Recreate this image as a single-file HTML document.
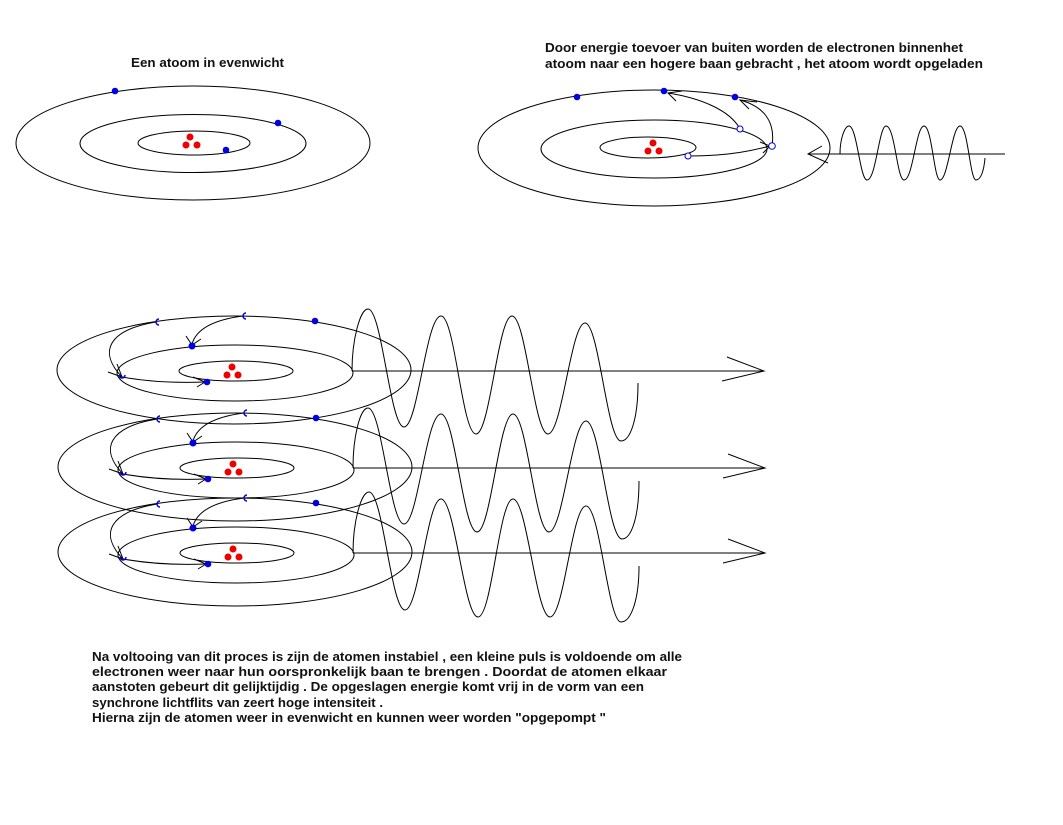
<!DOCTYPE html>
<html><head><meta charset="utf-8"><style>
html,body{margin:0;padding:0;background:#fff}
svg{display:block}
text{font-family:"Liberation Sans",sans-serif;font-weight:bold;font-size:12.5px;fill:#111}
</style></head><body>
<svg width="1063" height="825" viewBox="0 0 1063 825" xmlns="http://www.w3.org/2000/svg">
<defs>
<g id="atomB" fill="none" stroke="#000" stroke-width="1">
  <ellipse cx="234" cy="370" rx="177" ry="54"/>
  <ellipse cx="235" cy="373" rx="118" ry="28"/>
  <ellipse cx="236" cy="371" rx="57" ry="10"/>
  <path d="M243,316 C212,320 196,330 192,344"/>
  <path d="M186,336 L192,345 L201,339"/>
  <path d="M156,322 C108,330 98,352 122,377"/>
  <path d="M108,372 L122,377 L117,364"/>
  <path d="M122,377 C150,382 180,383 205,382"/>
  <path d="M193,377 L205,382 L197,387"/>
  <circle cx="232" cy="367" r="3.5" fill="#e00" stroke="none"/>
  <circle cx="227" cy="375" r="3.5" fill="#e00" stroke="none"/>
  <circle cx="238" cy="375" r="3.5" fill="#e00" stroke="none"/>
  <circle cx="315" cy="321" r="3.3" fill="#0000e0" stroke="none"/>
  <circle cx="192" cy="346" r="3.5" fill="#0000e0" stroke="none"/>
  <circle cx="207" cy="382" r="3.3" fill="#0000e0" stroke="none"/>
  <path d="M159,319 A3,3 0 1 0 159,325" stroke="#0000e0" stroke-width="1.5"/>
  <path d="M246,313 A3,3 0 1 0 246,319" stroke="#0000e0" stroke-width="1.5"/>
  <path d="M119,375 A3,3 0 0 0 125,375" stroke="#0000e0" stroke-width="1.5"/>
</g>
</defs>

<text x="131" y="67" textLength="153" lengthAdjust="spacingAndGlyphs">Een atoom in evenwicht</text>
<text x="545" y="52" textLength="418" lengthAdjust="spacingAndGlyphs">Door energie toevoer van buiten worden de electronen binnenhet</text>
<text x="545" y="68" textLength="438" lengthAdjust="spacingAndGlyphs">atoom naar een hogere baan gebracht  , het atoom wordt opgeladen</text>

<!-- atom 1 -->
<g fill="none" stroke="#000" stroke-width="1">
  <ellipse cx="193" cy="143" rx="177" ry="57"/>
  <ellipse cx="193" cy="143.5" rx="113" ry="29"/>
  <ellipse cx="194" cy="143" rx="56" ry="12"/>
</g>
<g fill="#e00"><circle cx="190" cy="137" r="3.5"/><circle cx="186" cy="145" r="3.5"/><circle cx="197" cy="145" r="3.5"/></g>
<g fill="#0000e0"><circle cx="115" cy="91" r="3.3"/><circle cx="278" cy="123" r="3.3"/><circle cx="226" cy="150" r="3.3"/></g>

<!-- atom 2 -->
<g fill="none" stroke="#000" stroke-width="1">
  <ellipse cx="654" cy="148" rx="176" ry="58"/>
  <ellipse cx="654" cy="149" rx="113" ry="29"/>
  <ellipse cx="648" cy="147.5" rx="48" ry="10.5"/>
  <path d="M690,156 C730,156 755,150 770,146"/>
  <path d="M760,142 L770,146 L763,153"/>
  <path d="M772,146 C776,120 762,106 740,100"/>
  <path d="M757,102 L740,100 L749,109"/>
  <path d="M740,129 C730,110 700,98 668,93"/>
  <path d="M682,91 L668,93 L676,101"/>
  <path d="M808,154 L1005,154"/>
  <path d="M822,146 L808,154 L828,163"/>
  <path d="M840,154 C840,138 845,126 849,126 C857,126 860,180 867,180 C876,180 879,126 886,126 C895,126 897,180 904,180 C913,180 916,126 924,126 C932,126 934,180 940,180 C948,180 952,126 960,126 C968,126 970,180 976,180 C981,180 984,170 985,158"/>
</g>
<g fill="#e00"><circle cx="653" cy="143" r="3.5"/><circle cx="648" cy="151" r="3.5"/><circle cx="659" cy="151" r="3.5"/></g>
<g fill="#0000e0"><circle cx="577" cy="97" r="3.3"/><circle cx="664" cy="91" r="3.3"/><circle cx="735" cy="97" r="3.3"/></g>
<g fill="#fff" stroke="#0000e0" stroke-width="1"><circle cx="740" cy="129" r="3"/><circle cx="772" cy="146" r="3.3"/><circle cx="688" cy="156" r="3"/></g>

<!-- bottom atoms -->
<use href="#atomB"/>
<use href="#atomB" transform="translate(1,97)"/>
<use href="#atomB" transform="translate(1,182)"/>

<g fill="none" stroke="#000" stroke-width="1">
  <path d="M352,371 L764,371 M727,357 L764,371 L722,381"/>
  <path d="M353,468 L765,468 M728,454 L765,468 L723,478"/>
  <path d="M353,553 L765,553 M728,539 L765,553 L723,563"/>
  <path d="M352,371 C352,340 360,309 368,309 C382,309 390,427 404,427 C418,427 426,316 441,316 C455,316 462,434 476,434 C490,434 498,316 512,316 C526,316 534,434 548,434 C562,434 571,323 585,323 C599,323 607,441 621,441 C630,441 638,420 638,383"/>
  <path d="M353,468 C353,437 360,408 368,408 C382,408 390,524 404,524 C418,524 426,414 441,414 C455,414 463,532 477,532 C491,532 499,414 513,414 C527,414 535,532 549,532 C563,532 572,421 586,421 C600,421 608,539 622,539 C631,539 639,518 639,481"/>
  <path d="M353,553 C353,522 361,492 369,492 C383,492 391,610 405,610 C419,610 427,499 441,499 C455,499 464,617 478,617 C492,617 499,499 513,499 C527,499 536,617 550,617 C564,617 572,506 586,506 C600,506 608,622 621,622 C631,622 639,600 639,566"/>
</g>

<text x="92" y="661" textLength="590" lengthAdjust="spacingAndGlyphs">Na voltooing van dit proces is zijn de atomen instabiel , een kleine puls is voldoende om alle</text>
<text x="92" y="676" textLength="575" lengthAdjust="spacingAndGlyphs">electronen weer naar hun oorspronkelijk baan te brengen . Doordat de atomen elkaar</text>
<text x="92" y="691" textLength="552" lengthAdjust="spacingAndGlyphs">aanstoten gebeurt dit gelijktijdig . De opgeslagen energie komt vrij in de vorm van een</text>
<text x="92" y="707" textLength="291" lengthAdjust="spacingAndGlyphs">synchrone lichtflits van zeert hoge intensiteit .</text>
<text x="92" y="722" textLength="514" lengthAdjust="spacingAndGlyphs">Hierna zijn de atomen weer in evenwicht en kunnen weer worden "opgepompt "</text>
</svg>
</body></html>
